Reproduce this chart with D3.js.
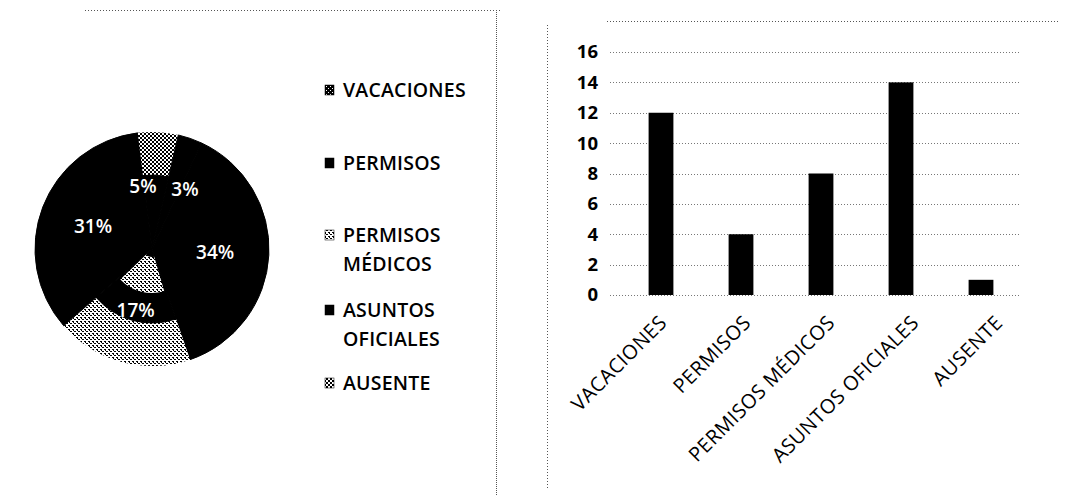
<!DOCTYPE html>
<html>
<head>
<meta charset="utf-8">
<script src="https://cdn.jsdelivr.net/npm/d3@7"></script>
<style>
  html, body { margin: 0; padding: 0; background: #fff; }
  svg { display: block; }
  text { font-family: "Open Sans", sans-serif; }
</style>
</head>
<body>
<svg id="chart" width="1065" height="500"></svg>
<script>
// ---------- DATA ----------
const categories = ["VACACIONES", "PERMISOS", "PERMISOS MÉDICOS", "ASUNTOS OFICIALES", "AUSENTE"];
const barValues = [12, 4, 8, 14, 1];
const yTicks = [0, 2, 4, 6, 8, 10, 12, 14, 16];

// pie slices, clockwise, with their printed percentage labels
const pieCategories = ["ASUNTOS OFICIALES", "PERMISOS MÉDICOS", "VACACIONES", "AUSENTE", "PERMISOS"];
const pieValues = [34, 17, 31, 5, 3];

// legend (two-line labels as drawn)
const legendLines = [["VACACIONES"], ["PERMISOS"], ["PERMISOS", "MÉDICOS"], ["ASUNTOS", "OFICIALES"], ["AUSENTE"]];

// ---------- SETUP ----------
const svg = d3.select("#chart");
const defs = svg.append("defs");

function pattern(id, size, bg, fg, cells) {
  const p = defs.append("pattern").attr("id", id).attr("patternUnits", "userSpaceOnUse")
    .attr("width", size).attr("height", size);
  p.append("rect").attr("width", size).attr("height", size).attr("fill", bg);
  cells.forEach(c => p.append("rect").attr("x", c[0]).attr("y", c[1]).attr("width", c[2]).attr("height", c[3]).attr("fill", fg));
}
pattern("pLight", 4, "#fff", "#000", [[0, 0, 2, 1], [2, 2, 2, 1], [1, 1, 1, 1]]);
pattern("pDark", 4, "#000", "#fff", [[0, 0, 1, 1], [2, 2, 1, 1]]);
pattern("pMed", 4, "#fff", "#000", [[0, 0, 2, 2], [2, 2, 2, 2]]);

const legendFill = {
  "VACACIONES": "url(#pDark)",
  "PERMISOS": "#000",
  "PERMISOS MÉDICOS": "url(#pLight)",
  "ASUNTOS OFICIALES": "#000",
  "AUSENTE": "url(#pMed)"
};
// how each slice looks in the scan (outer ring)
const sliceFill = {
  "VACACIONES": "#000",
  "PERMISOS": "#000",
  "PERMISOS MÉDICOS": "url(#pLight)",
  "ASUNTOS OFICIALES": "#000",
  "AUSENTE": "url(#pMed)"
};

// ---------- frames (scan borders) ----------
const frame = svg.append("g").attr("fill", "none").attr("stroke", "#555").attr("stroke-width", 1)
  .attr("stroke-dasharray", "1,2");
frame.append("line").attr("x1", 85).attr("x2", 500).attr("y1", 10.5).attr("y2", 10.5);
frame.append("line").attr("x1", 496.5).attr("x2", 496.5).attr("y1", 10).attr("y2", 495).attr("stroke-dasharray", "1,1");
frame.append("line").attr("x1", 547.5).attr("x2", 547.5).attr("y1", 25).attr("y2", 490);
frame.append("line").attr("x1", 607).attr("x2", 1060).attr("y1", 21.5).attr("y2", 21.5);

// ---------- PIE ----------
const cx = 152, cy = 249, R = 117, core = 74;
const startA = 25 * Math.PI / 180;
const pie = d3.pie().sort(null).value(d => d.v).startAngle(startA).endAngle(startA + 2 * Math.PI);
const arcs = pie(pieCategories.map((c, i) => ({ c, v: pieValues[i] })));
const outerArc = d3.arc().innerRadius(core - 3).outerRadius(R);
const innerArc = d3.arc().innerRadius(0).outerRadius(core);
const hollowArc = d3.arc().innerRadius(8).outerRadius(44);

const gPie = svg.append("g").attr("transform", `translate(${cx},${cy})`);
gPie.selectAll("path.o").data(arcs).join("path").attr("class", "o")
  .attr("d", outerArc).attr("fill", d => sliceFill[d.data.c])
  .attr("stroke", d => sliceFill[d.data.c] === "#000" ? "#000" : "none").attr("stroke-width", 1);
gPie.selectAll("path.i").data(arcs).join("path").attr("class", "i")
  .attr("d", innerArc).attr("fill", "#000").attr("stroke", "#000").attr("stroke-width", 1);
// light patch near the centre of the PERMISOS MÉDICOS slice
gPie.selectAll("path.h").data(arcs.filter(d => d.data.c === "PERMISOS MÉDICOS")).join("path").attr("class", "h")
  .attr("d", d => hollowArc({ startAngle: d.startAngle + 0.05, endAngle: d.endAngle - 0.05 }))
  .attr("fill", "url(#pLight)");

// labels at slice centroids, small neighbours pushed apart horizontally
const lblR = R * 0.54;
const labels = arcs.map(d => {
  const a = (d.startAngle + d.endAngle) / 2;
  return { t: d.data.v + "%", x: Math.sin(a) * lblR, y: -Math.cos(a) * lblR };
});
for (let k = 0; k < 20; k++) {
  for (let i = 0; i < labels.length; i++) for (let j = i + 1; j < labels.length; j++) {
    const A = labels[i], B = labels[j];
    const dx = B.x - A.x, dy = B.y - A.y;
    if (Math.abs(dy) < 20 && Math.abs(dx) < 42) {
      const push = (42 - Math.abs(dx)) / 2 * Math.sign(dx || 1);
      A.x -= push; B.x += push;
    }
  }
}
gPie.selectAll("text").data(labels).join("text")
  .attr("x", d => d.x).attr("y", d => d.y)
  .attr("text-anchor", "middle").attr("dy", "0.36em")
  .attr("fill", "#fff").attr("font-size", 19).attr("font-weight", 600)
  .text(d => d.t);

// ---------- LEGEND ----------
const legendRows = [97, 170, 242, 317, 390];
const gLeg = svg.append("g");
legendLines.forEach((lines, i) => {
  const y = legendRows[i];
  gLeg.append("rect").attr("x", 325).attr("y", y - 12).attr("width", 9).attr("height", 10)
    .attr("fill", legendFill[categories[i]]).attr("stroke", "#000").attr("stroke-width", 0.5);
  lines.forEach((t, j) => {
    gLeg.append("text").attr("x", 343).attr("y", y + j * 29)
      .attr("font-size", 19.5).attr("font-weight", 600).attr("letter-spacing", 0.2)
      .attr("fill", "#000").text(t);
  });
});

// ---------- BAR CHART ----------
const x = d3.scaleBand().domain(categories).range([621, 1021]).paddingInner(0.69).paddingOuter(0.345);
const y = d3.scaleLinear().domain([0, 16]).range([295, 52]);

const gGrid = svg.append("g");
gGrid.selectAll("line").data(yTicks).join("line")
  .attr("x1", 610).attr("x2", 1021)
  .attr("y1", d => Math.round(y(d)) + 0.5).attr("y2", d => Math.round(y(d)) + 0.5)
  .attr("stroke", "#777").attr("stroke-dasharray", "1,2");

const yAxis = d3.axisLeft(y).tickValues(yTicks).tickSize(0).tickPadding(0);
const gy = svg.append("g").attr("transform", "translate(598,0)").call(yAxis);
gy.select(".domain").remove();
gy.selectAll("text").attr("font-size", 18.5).attr("font-weight", 700).attr("fill", "#000")
  .attr("font-family", "Open Sans, sans-serif");

svg.append("g").selectAll("rect").data(categories).join("rect")
  .attr("x", d => x(d)).attr("width", x.bandwidth())
  .attr("y", (d, i) => y(barValues[i])).attr("height", (d, i) => y(0) - y(barValues[i]))
  .attr("fill", "#000");

// category labels, rotated
const xl = d3.scalePoint().domain(categories).range([668, 1004]);
svg.append("g").selectAll("text").data(categories).join("text")
  .attr("transform", d => `translate(${xl(d)},324) rotate(-45)`)
  .attr("text-anchor", "end")
  .attr("font-size", 20).attr("letter-spacing", 0.4).attr("fill", "#000")
  .text(d => d);
</script>
</body>
</html>
